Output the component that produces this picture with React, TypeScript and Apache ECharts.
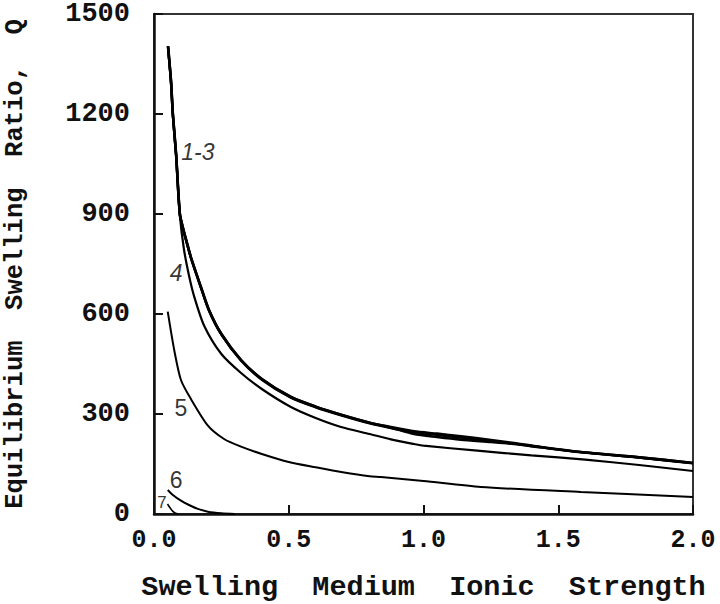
import React, { useEffect, useRef } from "react";
import * as echarts from "echarts";

// Curves 1-3 (overlapping), 4, 5, 6, 7 : [ionic strength, swelling ratio Q]
const curve1: [number, number][] = [
  [0.052, 1404], [0.063, 1300], [0.07, 1200], [0.082, 1080], [0.096, 900], [0.11, 850],
  [0.12, 820], [0.137, 770], [0.174, 681], [0.204, 612], [0.25, 540], [0.323, 462],
  [0.4, 405], [0.508, 351], [0.6, 322], [0.694, 298], [0.8, 274], [0.879, 261],
  [0.965, 248], [1.05, 241], [1.139, 233], [1.25, 222], [1.336, 213], [1.436, 201],
  [1.584, 186], [1.8, 170], [2.0, 153],
];
const curve2: [number, number][] = [
  [0.052, 1404], [0.063, 1300], [0.07, 1200], [0.082, 1080], [0.096, 900], [0.11, 850],
  [0.12, 820], [0.137, 770], [0.174, 681], [0.204, 612], [0.25, 540], [0.323, 462],
  [0.4, 405], [0.508, 351], [0.6, 322], [0.694, 298], [0.8, 274], [0.879, 259],
  [0.965, 240], [1.05, 231], [1.139, 223], [1.25, 216], [1.336, 210], [1.436, 200],
  [1.584, 186], [1.8, 170], [2.0, 153],
];
const curve3: [number, number][] = [
  [0.052, 1400], [0.063, 1296], [0.07, 1196], [0.082, 1076], [0.096, 898], [0.11, 848],
  [0.12, 818], [0.137, 768], [0.174, 679], [0.204, 610], [0.25, 538], [0.323, 460],
  [0.4, 403], [0.508, 349], [0.6, 320], [0.694, 296], [0.8, 272], [0.879, 258],
  [0.965, 245], [1.05, 237], [1.139, 229], [1.25, 219], [1.336, 211], [1.436, 200],
  [1.584, 185], [1.8, 169], [2.0, 152],
];
const curve4: [number, number][] = [
  [0.052, 1400], [0.063, 1296], [0.07, 1196], [0.082, 1076], [0.096, 896], [0.111, 795],
  [0.13, 715], [0.15, 650], [0.186, 565], [0.25, 480], [0.323, 423], [0.4, 375],
  [0.508, 321], [0.6, 288], [0.694, 261], [0.8, 240], [0.879, 224], [0.965, 210],
  [1.0, 205], [1.2, 190], [1.4, 176], [1.6, 163], [1.8, 147], [2.0, 129],
];
const curve5: [number, number][] = [
  [0.051, 607], [0.075, 492], [0.1, 402], [0.137, 345], [0.2, 265], [0.26, 225],
  [0.323, 202], [0.4, 180], [0.5, 156], [0.6, 140], [0.7, 125], [0.8, 113],
  [0.842, 111], [1.0, 99], [1.213, 81], [1.584, 66], [2.0, 51],
];
const curve6: [number, number][] = [
  [0.051, 72], [0.07, 57], [0.1, 40], [0.13, 27], [0.16, 16], [0.2, 7], [0.25, 2], [0.3, 0],
];
const curve7: [number, number][] = [
  [0.05, 30], [0.06, 18], [0.07, 8], [0.08, 2], [0.09, 0],
];

const curveLabels: { name: string; value: [number, number]; italic: boolean }[] = [
  { name: "1-3", value: [0.163, 1086], italic: true },
  { name: "4", value: [0.082, 723], italic: true },
  { name: "5", value: [0.1, 318], italic: false },
  { name: "6", value: [0.082, 102], italic: false },
  { name: "7", value: [0.03, 36], italic: false },
];

const xTicks = [0, 0.5, 1.0, 1.5, 2.0];
const yTicks = [0, 300, 600, 900, 1200, 1500];

const MONO = "'Liberation Mono', 'DejaVu Sans Mono', monospace";

export default function App() {
  const ref = useRef<HTMLDivElement>(null);
  useEffect(() => {
    document.body.style.margin = "0";
    if (!ref.current) return;
    const chart = echarts.init(ref.current, undefined, { renderer: "svg" });
    const line = (data: [number, number][], width: number) => ({
      type: "line",
      data,
      showSymbol: false,
      symbol: "none",
      smooth: 0.25,
      lineStyle: { color: "#000", width },
      z: 3,
    });
    chart.setOption({
      animation: false,
      backgroundColor: "#fff",
      grid: {
        left: 154,
        right: 27,
        top: 14,
        bottom: 90,
        outerBoundsMode: "none",
        containLabel: false,
        show: true,
        borderColor: "#333",
        borderWidth: 2,
        backgroundColor: "transparent",
      },
      xAxis: {
        type: "value",
        min: xTicks[0],
        max: xTicks[xTicks.length - 1],
        interval: 0.5,
        name: "Swelling  Medium  Ionic  Strength",
        nameLocation: "middle",
        nameGap: 59,
        nameTextStyle: { fontFamily: MONO, fontWeight: "bold", fontSize: 28.5, color: "#111" },
        axisLine: { show: true, lineStyle: { color: "#111", width: 2.5 } },
        axisTick: { show: true, inside: true, length: 9, lineStyle: { color: "#111", width: 2 } },
        axisLabel: {
          fontFamily: MONO,
          fontWeight: "bold",
          fontSize: 25,
          color: "#111",
          margin: 14,
          formatter: (v: number) => v.toFixed(1),
        },
        splitLine: { show: false },
      },
      yAxis: {
        type: "value",
        min: yTicks[0],
        max: yTicks[yTicks.length - 1],
        interval: 300,
        name: "Equilibrium  Swelling  Ratio,  Q",
        nameLocation: "middle",
        nameGap: 126,
        nameRotate: 90,
        nameTextStyle: { fontFamily: MONO, fontWeight: "bold", fontSize: 25.5, color: "#111" },
        axisLine: { show: true, lineStyle: { color: "#111", width: 2.5 } },
        axisTick: { show: true, inside: true, length: 9, lineStyle: { color: "#111", width: 2 } },
        axisLabel: {
          fontFamily: MONO,
          fontWeight: "bold",
          fontSize: 27,
          color: "#111",
          margin: 24,
          formatter: (v: number) => String(v),
        },
        splitLine: { show: false },
      },
      series: [
        line(curve1, 2.6),
        line(curve2, 2.6),
        line(curve3, 2.4),
        line(curve4, 2.2),
        line(curve5, 2),
        line(curve6, 2),
        line(curve7, 1.6),
        {
          type: "scatter",
          symbolSize: 0,
          z: 5,
          data: curveLabels.map((l) => ({
            name: l.name,
            value: l.value,
            label: {
              show: true,
              position: "inside",
              formatter: l.name,
              fontStyle: l.italic ? "italic" : "normal",
              fontFamily: "'Liberation Sans', Arial, sans-serif",
              fontSize: l.name === "7" ? 17 : 23,
              color: "#000",
            },
          })),
        },
      ],
    });
    return () => chart.dispose();
  }, []);
  return <div ref={ref} style={{ width: 720, height: 604 }} />;
}
